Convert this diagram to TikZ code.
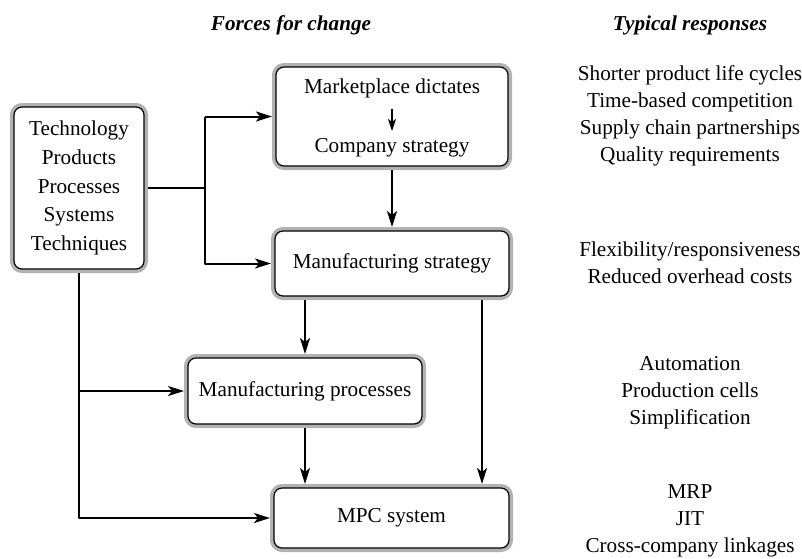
\documentclass[tikz,border=0pt]{standalone}
\usepackage{fontspec}
\setmainfont{Liberation Serif}
\usetikzlibrary{arrows.meta}
\tikzset{
	box/.style={draw, line width=.6pt, fill=white, rounded corners=4pt, inner sep=0pt, outer sep=2pt, align=center, preaction={draw=gray!60, line width=4pt}},
	resp/.style={align=center, font=\fontsize{10.6}{13.5}\selectfont},
	head/.style={font=\fontsize{10.6}{13}\selectfont\bfseries\itshape}
}
\begin{document}
\begin{tikzpicture}[x=.5pt, y=-.5pt, font=\fontsize{10.6}{14.3}\selectfont, line join=round, line width=1pt, >={Stealth[length=8pt,width=5pt,inset=2pt]}]
	\def\xm{392} \def\xr{690} % columns
	\useasboundingbox (0,0) rectangle (802,558);
	% headings
	\node[head] (hforce) at (291,25) {Forces for change};
	\node[head] (hresp) at (\xr,25) {Typical responses};
	% boxes
	\node[box, minimum width=65pt, minimum height=81pt] (tech) at (79,188) {Technology\\Products\\Processes\\Systems\\Techniques};
	\node[box, minimum width=116pt, minimum height=49.5pt] (market) at (\xm,116.5) {};
	\node (mdict) at (\xm,88) {Marketplace dictates};
	\node (cstrat) at (\xm,148) {Company strategy};
	\node[box, minimum width=117pt, minimum height=32.5pt] (mstrat) at (\xm,263.5) {Manufacturing strategy};
	\node[box, minimum width=117pt, minimum height=33pt] (mproc) at (305,391) {Manufacturing processes};
	\node[box, minimum width=117.5pt, minimum height=30pt] (mpc) at (391.5,518) {MPC system};
	% responses
	\node[resp] (r1) at (\xr,116) {Shorter product life cycles\\Time-based competition\\Supply chain partnerships\\Quality requirements};
	\node[resp] (r2) at (\xr,263) {Flexibility/responsiveness\\Reduced overhead costs};
	\node[resp] (r3) at (\xr,393) {Automation\\Production cells\\Simplification};
	\node[resp] (r4) at (\xr,521) {MRP\\JIT\\Cross-company linkages};
	% connectors
	\coordinate (jt) at (205,188);
	\coordinate (rx) at (482,0);
	\draw (tech) -- (jt);
	\draw[->] (jt |- market) -- (market);
	\draw[->] (jt |- market) |- (mstrat);
	\draw[->, shorten <=2pt, >={Stealth[length=6pt,width=4pt,inset=1.5pt]}] (mdict) -- (cstrat);
	\draw[->] (market) -- (mstrat);
	\draw[->] (mstrat.south -| mproc) -- (mproc);
	\draw[->] (mproc) -- (mproc |- mpc.north);
	\draw[->] (mstrat.south -| rx) -- (mpc.north -| rx);
	\draw[->] (tech) |- (mpc);
	\draw[->] (tech |- mproc) -- (mproc);
\end{tikzpicture}
\end{document}
